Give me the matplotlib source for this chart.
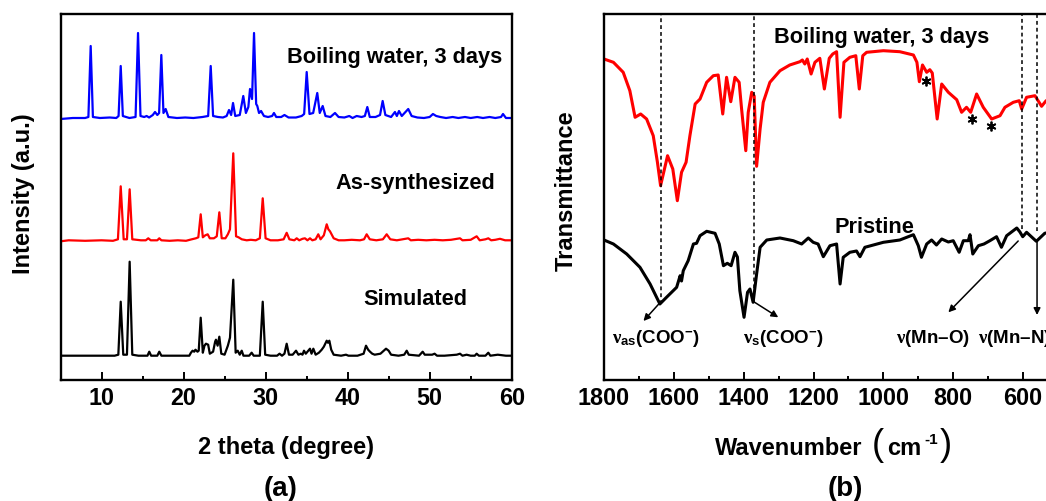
import matplotlib
matplotlib.use("Agg")
import matplotlib.pyplot as plt
from matplotlib.ticker import MultipleLocator

plt.rcParams['font.family'] = ['Liberation Sans', 'DejaVu Sans']
plt.rcParams['font.weight'] = 'bold'
plt.rcParams['mathtext.fontset'] = 'custom'
plt.rcParams['mathtext.rm'] = 'Liberation Sans:bold'
plt.rcParams['mathtext.bf'] = 'Liberation Sans:bold'
plt.rcParams['mathtext.it'] = 'Liberation Serif:italic'
plt.rcParams['mathtext.sf'] = 'Liberation Serif'

# ---------------- XRD data: (2theta, intensity a.u.) ----------------
xrd_boiling = [(5,0),(6.5,1),(8.0,1),(8.4,2),(8.68,73),(8.95,2),(9.8,1),(11,1.5),(11.8,1),(12.08,3),(12.34,53),(12.6,3),
 (13.4,1),(14.15,2),(14.45,86),(14.75,3),(15.2,2),(15.5,3),(15.8,1.5),(16.25,4),(16.52,7),(16.8,4),(17.02,6),(17.29,64),
 (17.55,6),(17.82,10),(18.15,2),(19.2,1),(20.2,1.5),(21.2,1),(22.3,2),(23.0,3),(23.31,53),(23.6,3),(24.2,2),(24.8,1.5),
 (25.25,3),(25.54,9),(25.8,4),(26.03,16),(26.3,3),(26.85,4),(27.28,23),(27.6,6),(27.9,12),(28.1,30),(28.35,20),(28.59,86),
 (28.85,15),(28.99,13),(29.2,6),(29.45,8),(29.8,3),(30.3,2),(30.8,3),(31.02,6),(31.3,2),(31.9,2),(32.3,4),(32.8,1.5),
 (33.7,1.5),(34.4,3),(34.7,5),(35.01,47),(35.35,5),(35.8,6),(36.3,26),(36.6,6),(36.96,13),(37.3,3),(37.9,2),(38.46,6),
 (38.9,2),(39.6,1.5),(40.2,3),(40.6,1),(41.1,3),(41.7,2),(42.1,3),(42.4,12),(42.7,2),(43.4,2),(43.95,4),(44.27,18),
 (44.6,4),(45.3,2),(45.77,7),(46.0,3),(46.26,8),(46.6,3),(47.39,10),(47.8,3),(48.5,1.5),(49.3,1),(50.0,2),(50.4,5),
 (50.8,3),(51.3,2),(52.0,1),(52.8,2),(53.5,1),(54.3,2),(55.0,1),(55.8,2),(56.5,1),(57.3,2),(58.0,1),(58.7,2),(58.94,5),
 (59.3,1),(60,1)]

xrd_as_synth = [(5,0),(6,1),(8,0.5),(10,1),(11.4,0.5),(12.0,2),(12.34,55),(12.7,2),(13.1,2),(13.43,52),(13.75,2),(14.8,1),
 (15.4,1),(15.7,3),(16.0,1),(16.8,1),(17.04,3),(17.3,1),(18.3,0.5),(19.3,1),(20.3,0.5),(21.0,2),(21.5,3),(21.8,4),
 (22.09,27),(22.35,4),(22.65,6),(22.94,7),(23.2,3),(23.7,3),(24.05,5),(24.36,29),(24.65,3),(25.1,3),(25.4,7),(25.66,12),
 (26.06,88),(26.4,5),(26.7,4),(27.1,2),(27.7,1),(28.2,1.5),(28.8,1),(29.3,3),(29.65,43),(30.0,3),(30.6,1),(31.5,1),
 (32.2,2),(32.57,8.5),(32.9,2),(33.5,1),(33.79,3),(34.1,1),(34.5,2.5),(34.8,3),(35.1,1),(35.41,3),(35.7,1),(36.1,2),
 (36.42,7),(36.7,2),(37.1,6),(37.45,17),(37.65,12),(37.85,10),(38.3,3),(38.9,1),(39.6,1),(40.5,1.5),(41.5,1),(42.0,2),
 (42.32,7),(42.7,2),(43.5,1),(44.3,2),(44.76,7),(45.2,2),(46.0,1),(46.7,2),(47.39,3),(47.7,1),(48.6,1.5),(49.6,1),
 (50.6,1.5),(51.6,1),(52.6,1.5),(53.7,3),(54.0,1),(55.0,1.5),(55.73,5),(56.1,1),(56.8,2),(57.15,3),(57.5,1),(58.0,1.5),
 (58.57,2.5),(59.2,1),(60,1)]

xrd_simulated = [(5,0),(11.6,0),(12.05,1),(12.34,54),(12.65,1),(13.1,1),(13.43,94),(13.75,1),(14.5,0),(15.6,0),(15.82,4),
 (16.05,0),(16.8,0),(17.04,4),(17.3,0),(18.8,0),(20.7,0),(20.9,3),(21.1,5),(21.3,4),(21.45,6),(21.7,4),(21.85,5),
 (22.09,38),(22.35,3),(22.55,10),(22.73,12),(23.0,11),(23.2,2),(23.6,4),(23.85,14),(23.95,16),(24.15,10),(24.36,19),
 (24.6,2),(25.0,1),(25.4,10),(25.66,18),(26.06,76),(26.35,3),(26.6,5),(26.85,1),(27.09,5),(27.3,0),(28.0,0),(28.3,3),
 (28.55,0),(29.3,0),(29.65,54),(29.95,1),(30.6,0),(31.4,0),(31.7,2),(32.0,0),(32.3,2),(32.57,12),(32.85,1),(33.3,1),
 (33.71,5),(34.0,1),(34.3,2),(34.5,1),(34.68,5),(34.9,2),(35.41,7),(35.6,2),(35.82,7),(36.1,1),(36.5,3),(36.84,6),
 (37.1,9),(37.45,15),(37.6,13),(37.77,15),(38.0,6),(38.3,1),(39.2,0),(39.8,1),(40.1,0),(41.2,0),(41.95,2),(42.24,10),
 (42.5,6),(42.73,4),(43.0,2),(43.3,1),(44.0,2),(44.68,7),(45.0,5),(45.3,1),(46.2,0),(46.9,1),(47.2,5),(47.45,1),(48.7,0),
 (49.15,4),(49.4,1),(50.3,1),(50.6,2),(50.9,0),(51.8,0),(53.3,1),(53.7,2),(54.0,0),(54.5,1),(55.0,0),(55.5,0),(55.73,2),
 (56.0,0),(56.8,0),(57.15,3),(57.4,0),(58.3,1),(59.3,0),(60,0)]

xrd_names = ["Boiling water, 3 days", "As-synthesized", "Simulated"]

# ---------------- FTIR data: (wavenumber, transmittance a.u.) ----------------
ir_boiling = [(1800,321),(1773,317.7),(1745,307.7),(1726,289.3),(1711,262.7),(1695,266),(1678,261),(1659,244.3),
 (1647,217.7),(1638,194.3),(1618,224.3),(1603,211),(1590,179.3),(1578,207.7),(1565,217.7),(1554,244.3),(1539,276),
 (1525,281),(1506,297.7),(1487,304.3),(1473,305),(1460,266),(1449,302.7),(1437,278.3),(1425,302.7),(1413,297.7),
 (1406,271),(1394,229.3),(1387,267.7),(1377,287.7),(1370,284),(1363,213.7),(1353,251),(1344,277.7),(1325,297.7),
 (1296,309.3),(1268,315),(1239,318.3),(1232,320),(1225,316),(1218,321),(1207,306),(1196,317.7),(1182,321.7),(1169,291),
 (1155,321.7),(1145,326),(1134,328.3),(1124,262.7),(1113,317.7),(1096,322.7),(1079,324.3),(1069,291),(1059,324.3),
 (1048,327.7),(1000,329.3),(953,328.3),(914,325),(904,317.7),(897,298.3),(888,315),(876,307.7),(867,310.3),(860,307),
 (846,261),(833,296),(814,287.7),(790,280.3),(776,267.7),(762,272.7),(750,267.7),(733,286),(714,272.7),(690,261),
 (666,264.3),(652,272.7),(628,277.7),(611,279.3),(604,271),(590,282.7),(566,284.3),(547,273.7),(534,279.3),(500,283)]

ir_pristine = [(1800,140),(1773,136),(1735,126),(1697,112.7),(1668,96),(1640,76),(1621,82.7),(1592,92.7),(1582,104.3),
 (1578,99),(1573,109.3),(1559,119.3),(1544,136),(1535,136.7),(1525,144.3),(1506,148.7),(1482,146.7),(1470,136),
 (1458,114.3),(1447,116.7),(1436,114.3),(1425,127.7),(1418,123),(1411,89.3),(1399,62.7),(1389,87.7),(1382,91),
 (1373,77.7),(1363,106),(1353,132.7),(1334,140),(1296,142),(1258,139.3),(1234,136),(1215,142),(1201,137.7),(1187,136),
 (1172,123.3),(1153,134.3),(1134,136),(1124,96),(1115,122.7),(1096,127.7),(1077,129),(1067,123.3),(1053,132.7),
 (1000,137.7),(953,140),(914,145.3),(900,134.3),(891,122.7),(876,136),(862,140),(848,135),(833,141),(814,138),
 (800,139.3),(783,127.7),(771,139.3),(757,139.3),(752,145.3),(744,126),(728,134.3),(712,136),(695,139.3),(676,143.3),
 (662,132.7),(647,144.3),(618,152),(609,148),(601,143.3),(590,147.7),(562,138.7),(538,146.7),(500,150)]

ir_names = ["Boiling water, 3 days", "Pristine"]
band_labels = [r'$\mathsf{\nu}_{\mathbf{as}}$(COO$^{\mathbf{-}}$)', r'$\mathsf{\nu}_{\mathbf{s}}$(COO$^{\mathbf{-}}$)',
               r'$\mathsf{\nu}$(Mn–O)', r'$\mathsf{\nu}$(Mn–N)']
band_positions = [1638, 1370, 604, 560]
star_positions = [(878, 299), (747, 261), (693, 254)]

# ---------------- figure ----------------
W, H = 1046, 502
fig = plt.figure(figsize=(W/100, H/100), dpi=100)

def px_axes(l, t, r, b):
    return fig.add_axes([l/W, 1 - b/H, (r-l)/W, (b-t)/H])

axA = px_axes(60.5, 15, 511.7, 381)
axB = px_axes(604, 15, 1058, 381)

for ax in (axA, axB):
    for s in ax.spines.values():
        s.set_linewidth(1.7)
    ax.set_ylim(0, 366)
    ax.set_yticks([])
    ax.tick_params(axis='x', which='both', direction='in', top=False, width=1.4, labelsize=16.8, pad=4.5)
    ax.tick_params(axis='x', which='major', length=6)
    ax.tick_params(axis='x', which='minor', length=3)

# panel (a)
offsets = [261, 138.7, 24.3]
colors_a = ['#0000ff', '#ff0000', '#000000']
for data, off, c in zip([xrd_boiling, xrd_as_synth, xrd_simulated], offsets, colors_a):
    xs = [p[0] for p in data]
    ys = [p[1] + off for p in data]
    axA.plot(xs, ys, color=c, lw=1.6)
axA.set_xlim(5, 60)
axA.xaxis.set_major_locator(MultipleLocator(10))
axA.xaxis.set_minor_locator(MultipleLocator(5))
axA.text(58.9, 318.3, xrd_names[0], ha='right', va='baseline', fontsize=15.7, fontweight='bold')
axA.text(48.2, 191.7, xrd_names[1], ha='center', va='baseline', fontsize=15.7, fontweight='bold')
axA.text(48.2, 76, xrd_names[2], ha='center', va='baseline', fontsize=15.7, fontweight='bold')

# panel (b)
for data, c in zip([ir_boiling, ir_pristine], ['#ff0000', '#000000']):
    axB.plot([p[0] for p in data], [p[1] for p in data], color=c, lw=2.2)
axB.set_xlim(1800, 500)
axB.xaxis.set_major_locator(MultipleLocator(200))
axB.xaxis.set_minor_locator(MultipleLocator(100))

dash_ends = [76, 78, 151, 149]
axB.vlines(band_positions, dash_ends, 366, colors='k', linestyles=(0, (2.5, 2)), lw=1.1)

arrows = [((1638, 78), (1687, 59)), ((1370, 78), (1301, 62.7)), ((614, 139), (814, 67.7)), ((560, 137.7), (560, 65))]
for (s, e) in arrows:
    axB.annotate('', xy=e, xytext=s, arrowprops=dict(arrowstyle='-|>', lw=1.1, color='k',
                 mutation_scale=10, shrinkA=0, shrinkB=0))

axB.text(1651, 37.7, band_labels[0], ha='center', va='baseline', fontsize=13.5, fontweight='bold')
axB.text(1285, 37.7, band_labels[1], ha='center', va='baseline', fontsize=13.5, fontweight='bold')
axB.text(858, 37.7, band_labels[2], ha='center', va='baseline', fontsize=13.5, fontweight='bold')
axB.text(728, 37.7, band_labels[3], ha='left', va='baseline', fontsize=13.5, fontweight='bold')
axB.text(1005, 337.7, ir_names[0], ha='center', va='baseline', fontsize=15.7, fontweight='bold')
axB.text(1026, 147.7, ir_names[1], ha='center', va='baseline', fontsize=15.7, fontweight='bold')
axB.plot([p[0] for p in star_positions], [p[1] for p in star_positions], ls='none',
         marker=(6, 2, 0), ms=7, mew=1.3, color='k')

# labels
fig.text(286/W, 1 - 454/H, '2 theta (degree)', ha='center', va='baseline', fontsize=17, fontweight='bold')
fig.text(715/W, 1 - 455/H, 'Wavenumber', ha='left', va='baseline', fontsize=17, fontweight='bold')
fig.text(872/W, 1 - 455/H, '(', ha='left', va='baseline', fontsize=26, fontweight='normal')
fig.text(887/W, 1 - 455/H, 'cm', ha='left', va='baseline', fontsize=17, fontweight='bold')
fig.text(924/W, 1 - 444/H, '-1', ha='left', va='baseline', fontsize=11, fontweight='bold')
fig.text(940/W, 1 - 455/H, ')', ha='left', va='baseline', fontsize=26, fontweight='normal')
fig.text(23.5/W, 1 - 194/H, 'Intensity (a.u.)', rotation=90, ha='center', va='center', fontsize=17, fontweight='bold')
fig.text(566/W, 1 - 191/H, 'Transmittance', rotation=90, ha='center', va='center', fontsize=17, fontweight='bold')
fig.text(280.6/W, 1 - 496/H, '(a)', ha='center', va='baseline', fontsize=20, fontweight='bold')
fig.text(845/W, 1 - 496/H, '(b)', ha='center', va='baseline', fontsize=20, fontweight='bold')

fig.savefig('out.png', dpi=100)
